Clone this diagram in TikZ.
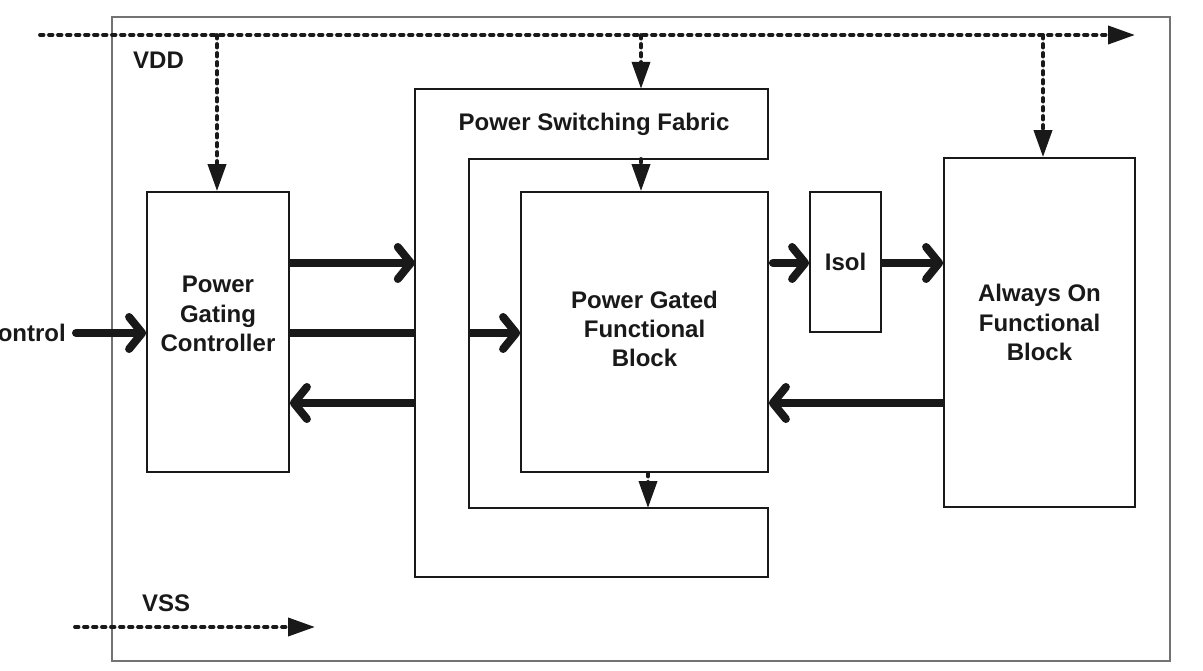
\documentclass[tikz,border=0pt]{standalone}
\usepackage{fontspec}
\setmainfont{Liberation Sans}
\usetikzlibrary{arrows.meta,calc}
\tikzset{
  lbl/.style={font=\fontsize{24}{29.5}\selectfont\bfseries, align=center, inner sep=0pt, text=black!90},
  blk/.style={draw=black!90, line width=1.8pt, fill=white, rectangle, inner sep=0pt},
  frame/.style={draw=black!55, line width=1.5pt},
  fatline/.style={line width=8pt, draw=black!90},
  fatarrow/.style={fatline, -{Straight Barb[length=13pt,width=32pt,round]}},
  pwr/.style={line width=3.8pt, draw=black!90, line cap=round, dash pattern=on 3.5pt off 5.5pt},
  pwrarrow/.style={pwr, -{Triangle[length=27pt,width=18pt]}, fill=black!90},
}
\begin{document}
\begin{tikzpicture}[x=1pt,y=-1pt]
\useasboundingbox (0,0) rectangle (1203,671);
% outer frame
\draw[frame] (112,17) rectangle (1170,661);

% blocks
\node[blk, minimum width=142pt, minimum height=280pt,
  label={[lbl, yshift=18pt]center:Power\\Gating\\Controller}] (pgc) at (218,332) {};
\node[minimum width=353pt, minimum height=488pt, inner sep=0pt] (psf) at (591.5,333) {};
\coordinate (psfi) at (469,159);
\coordinate (psfb) at (469,508);
\draw[line width=1.8pt, draw=black!90, line join=miter]
  (psf.north west) -- (psf.north east) -- (psf.east |- psfi) -- (psfi) -- (psfb)
  -- (psf.east |- psfb) -- (psf.south east) -- (psf.south west) -- cycle;
\node[lbl] (psflabel) at (594,124) {Power Switching Fabric};
\node[blk, minimum width=247pt, minimum height=280pt] (pgfb) at (644.5,332)
  {\fontsize{24}{29.5}\selectfont\bfseries\color{black!90}\begin{tabular}{@{}c@{}}Power Gated\\[-0.5pt]Functional\\[-0.5pt]Block\end{tabular}};
\node[blk, minimum width=71pt, minimum height=140pt] (isol) at (845.5,262)
  {\fontsize{24}{29.5}\selectfont\bfseries\color{black!90}Isol};
\node[blk, minimum width=191pt, minimum height=349pt,
  label={[lbl, yshift=10pt]center:Always On\\Functional\\Block}] (ao) at (1039.5,332.5) {};

% labels
\node[lbl, anchor=west] (vdd) at (133,60) {VDD};
\node[lbl, anchor=west] (vss) at (142,603) {VSS};
\node[lbl, anchor=east] (ctl) at (66,333) {Control};

% rows
\coordinate (r1) at (0,263);
\coordinate (r2) at (0,333);
\coordinate (r3) at (0,403);

% power rails
\coordinate (vdd0) at (40,35);
\coordinate (vdd1) at (1135,35);
\coordinate (j1) at (217,35);
\coordinate (j2) at (641,35);
\coordinate (j3) at (1043,35);
\draw[pwrarrow] (vdd0) -- (vdd1);
\draw[pwrarrow] (j1) -- (j1 |- pgc.north);
\draw[pwrarrow] (j2) -- (j2 |- psf.north);
\draw[pwrarrow] (j3) -- (j3 |- ao.north);
\draw[pwrarrow] (j2 |- psfi) -- (j2 |- pgfb.north);
\draw[pwrarrow] ([xshift=3.5pt]pgfb.south) -- ([xshift=3.5pt]pgfb.south |- psfb);
\coordinate (vss0) at (75,627);
\coordinate (vss1) at (315,627);
\draw[pwrarrow] (vss0) -- (vss1);

% signal arrows
\draw[fatarrow, line cap=round, shorten <=10pt] (ctl.east) -- (pgc.west |- ctl);
\draw[fatarrow] (pgc.east |- r1) -- (psf.west |- r1);
\draw[fatline] (pgc.east |- r2) -- (psf.west |- r2);
\draw[fatarrow] (psf.west |- r3) -- (pgc.east |- r3);
\draw[fatarrow] (psfi |- r2) -- (pgfb.west |- r2);
\draw[fatarrow, line cap=round, shorten <=4pt] (pgfb.east |- r1) -- (isol.west |- r1);
\draw[fatarrow] (isol.east |- r1) -- (ao.west |- r1);
\draw[fatarrow] (ao.west |- r3) -- (pgfb.east |- r3);
\end{tikzpicture}
\end{document}
